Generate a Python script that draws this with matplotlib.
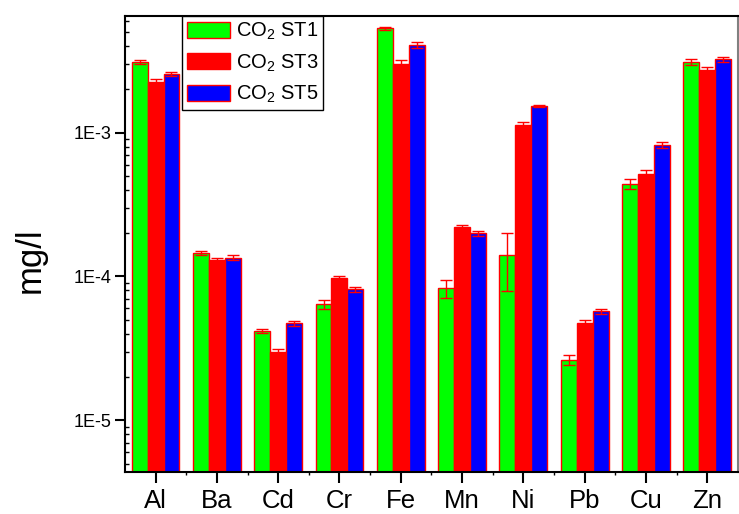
import matplotlib.pyplot as plt
import numpy as np
from matplotlib.ticker import FixedLocator, FuncFormatter, LogLocator, NullFormatter

plt.rcParams['font.family'] = ['Liberation Sans', 'DejaVu Sans']
plt.rcParams['mathtext.fontset'] = 'custom'
plt.rcParams['mathtext.rm'] = 'Liberation Sans'

# Metal concentrations (mg/l) at three stations
elements = ['Al', 'Ba', 'Cd', 'Cr', 'Fe', 'Mn', 'Ni', 'Pb', 'Cu', 'Zn']

st1 = [3.12e-3, 1.45e-4, 4.18e-5, 6.41e-5, 5.32e-3, 8.28e-5, 1.40e-4, 2.64e-5, 4.38e-4, 3.09e-3]
st3 = [2.26e-3, 1.30e-4, 2.99e-5, 9.71e-5, 3.00e-3, 2.20e-4, 1.13e-3, 4.75e-5, 5.19e-4, 2.74e-3]
st5 = [2.56e-3, 1.35e-4, 4.72e-5, 8.15e-5, 4.07e-3, 2.00e-4, 1.53e-3, 5.73e-5, 8.21e-4, 3.25e-3]

st1_err = [1.0e-4, 4.8e-6, 1.4e-6, 4.3e-6, 1.4e-4, 1.2e-5, 6.1e-5, 2.0e-6, 3.5e-5, 1.4e-4]
st3_err = [1.1e-4, 3.6e-6, 1.6e-6, 3.1e-6, 2.0e-4, 9.5e-6, 6.0e-5, 2.0e-6, 2.9e-5, 1.1e-4]
st5_err = [9.5e-5, 5.8e-6, 1.7e-6, 3.6e-6, 1.8e-4, 7.4e-6, 3.2e-5, 2.1e-6, 3.8e-5, 1.3e-4]

labels = [r'CO$_{\mathregular{2}}$ ST1', r'CO$_{\mathregular{2}}$ ST3', r'CO$_{\mathregular{2}}$ ST5']
colors = ['#00ff00', '#ff0000', '#0000ff']

fig = plt.figure(figsize=(7.39, 5.14), dpi=100)
ax = fig.add_axes([0.169, 0.0817, 0.8296, 0.8872])

x = np.arange(len(elements))
w = 0.26
series = [(st1, st1_err), (st3, st3_err), (st5, st5_err)]
for k, (vals, errs) in enumerate(series):
    pos = x + (k - 1) * w
    ax.bar(pos, vals, width=w, color=colors[k], edgecolor='red', linewidth=1,
           label=labels[k], zorder=2)
    ax.errorbar(pos, vals, yerr=errs, fmt='none', ecolor='red', elinewidth=1,
                capsize=4, capthick=1, zorder=3)

ax.set_yscale('log')
ax.set_ylim(4.37e-6, 6.48e-3)
ax.set_xlim(-0.5, 9.5)

ax.yaxis.set_major_locator(FixedLocator([1e-5, 1e-4, 1e-3]))
ax.yaxis.set_major_formatter(FuncFormatter(lambda v, p: '1E%d' % round(np.log10(v))))
ax.yaxis.set_minor_locator(LogLocator(base=10, subs=np.arange(2, 10)))
ax.yaxis.set_minor_formatter(NullFormatter())
ax.tick_params(axis='y', which='major', direction='out', length=7, width=1.5,
               labelsize=13, pad=3)
ax.tick_params(axis='y', which='minor', direction='in', length=3, width=1)

ax.set_xticks(x)
ax.set_xticklabels(elements)
ax.set_xticks(x[:-1] + 0.5, minor=True)
ax.tick_params(axis='x', which='major', direction='out', length=8, width=1.5,
               labelsize=18.5, pad=4)
ax.tick_params(axis='x', which='minor', direction='out', length=2, width=1)

for side in ['left', 'bottom', 'top']:
    ax.spines[side].set_linewidth(1.5)
ax.spines['right'].set_color('#808080')
ax.spines['right'].set_linewidth(1.5)

ax.set_ylabel('mg/l', fontsize=25)
ax.yaxis.set_label_coords(-0.128, 0.465)

leg = ax.legend(loc='upper left', bbox_to_anchor=(0.0935, 1.0), borderaxespad=0,
                fontsize=14.5, handlelength=2.1, handleheight=0.85, handletextpad=0.3,
                labelspacing=0.5, borderpad=0.25, fancybox=False, framealpha=1)
leg.get_frame().set_edgecolor('black')
leg.get_frame().set_linewidth(1)

fig.savefig('out.png', dpi=100)
